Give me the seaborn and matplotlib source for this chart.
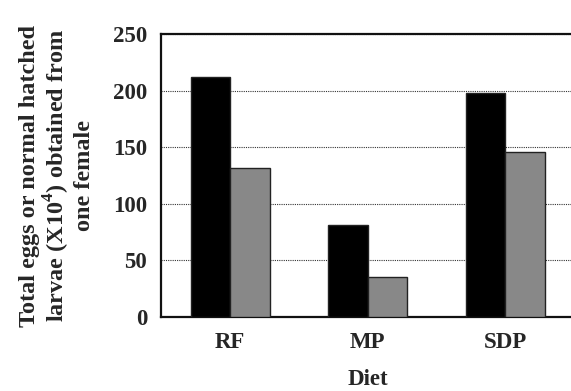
import pandas as pd
import matplotlib.pyplot as plt
import seaborn as sns

# values
diets = ["RF", "MP", "SDP"]
total_eggs = [212, 81, 198]
hatched_larvae = [132, 35, 146]

df = pd.DataFrame({
    "Diet": diets * 2,
    "Value": total_eggs + hatched_larvae,
    "Series": ["Total eggs"] * 3 + ["Normal hatched larvae"] * 3,
})

sns.set_style("white")
plt.rcParams['font.family'] = ['Liberation Serif', 'DejaVu Serif']
plt.rcParams['font.weight'] = 'bold'
plt.rcParams['mathtext.fontset'] = 'custom'
plt.rcParams['mathtext.bf'] = 'Liberation Serif:bold'

fig = plt.figure(figsize=(5.71, 3.91), dpi=100)
ax = fig.add_axes([0.282, 0.189, 0.724, 0.724])

sns.barplot(data=df, x="Diet", y="Value", hue="Series", order=diets,
            palette=["#000000", "#888888"], width=0.575, dodge=True,
            edgecolor="#222222", linewidth=1, legend=False, ax=ax, zorder=3)

ax.set_ylim(0, 250)
ax.set_xlim(-0.504, 2.504)
ax.set_yticks([0, 50, 100, 150, 200, 250])
ax.yaxis.grid(True, linestyle=(0, (1, 1)), color="#333333", linewidth=0.8, zorder=0)
ax.set_axisbelow(True)
ax.tick_params(axis="y", length=0, labelsize=16.5, pad=10)
ax.tick_params(axis="x", length=0, labelsize=16.5, pad=11)
for lab in ax.get_xticklabels() + ax.get_yticklabels():
    lab.set_fontweight("bold")

for s in ax.spines.values():
    s.set_color("#111111")
    s.set_linewidth(1.6)

ax.set_xlabel("Diet", fontsize=16.5, fontweight="bold", labelpad=11)
ax.set_ylabel("Total eggs or normal hatched\nlarvae (X10$^{\\mathbf{4}}$) obtained from\none female",
              fontsize=17.5, fontweight="bold", labelpad=13, linespacing=1.1)

fig.savefig("out.png", dpi=100)
